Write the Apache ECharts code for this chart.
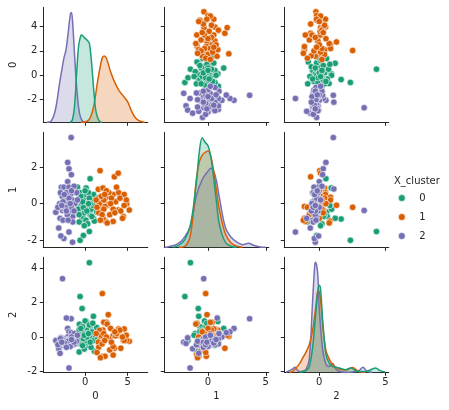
<!DOCTYPE html>
<html><head><meta charset="utf-8">
<script src="https://cdn.jsdelivr.net/npm/echarts@6/dist/echarts.min.js"></script>
<style>html,body{margin:0;padding:0;background:#fff}#c{width:449px;height:410px}</style>
</head><body><div id="c"></div>
<script>
const varNames = ['0','1','2'];
const clusterNames = ['0','1','2'];
const colors = ['#1b9e77','#d95f02','#7570b3'];

// cluster 0 (green)
const c0_v0 = [0.50,-0.59,-0.35,0.98,0.59,-0.20,0.12,-0.90,1.37,-0.70,1.09,-0.67,0.00,-0.40,0.30,0.80,-0.10,0.60,-0.50,0.20,1.00,-0.30,0.40,-0.80,0.70,-0.20,0.10,1.20,-0.60,0.50,-0.10,0.90,-0.40,0.30,-0.70,0.00,0.60,-0.20,1.50,-0.50,0.20,0.80,-0.30,-0.10,0.40];
const c0_v1 = [-1.52,-2.00,-0.84,-0.80,1.36,-1.73,0.85,0.90,-0.46,-1.00,-0.95,0.30,-0.30,-0.50,-0.20,0.20,0.40,-0.60,-0.10,0.10,0.50,-0.70,0.60,-0.30,-0.30,0.20,-0.90,0.00,0.60,0.30,-0.50,-0.10,0.00,-1.10,-0.60,0.70,0.00,-0.20,0.30,0.40,-0.40,-0.70,0.10,-1.20,0.00];
const c0_v2 = [4.32,2.35,1.65,1.20,0.50,-0.20,0.90,0.20,0.55,-0.87,-0.83,0.74,0.93,0.10,-0.10,0.30,-0.30,0.00,-0.40,0.40,-0.20,0.60,-0.50,0.00,-0.60,0.20,-0.30,0.10,-0.10,0.70,-0.70,0.80,0.30,0.20,0.40,-0.20,-0.30,-0.10,-0.10,0.50,0.00,0.30,-0.50,0.10,0.20];
// cluster 1 (orange)
const c1_v0 = [2.03,2.73,1.76,3.44,3.90,1.56,2.10,3.30,3.95,4.60,5.20,4.90,4.85,4.50,3.30,2.40,2.10,1.70,2.70,2.50,3.90,2.35,2.20,1.60,2.90,4.20,3.60,2.80,3.30,1.90,2.60,4.60,2.20,3.10,1.40,2.00,3.70,2.50,4.10,1.80,3.00,2.30,4.40,1.30,3.50];
const c1_v1 = [-0.20,-0.09,1.80,1.46,1.66,0.78,0.85,0.50,0.60,0.50,-0.35,0.00,0.20,-0.70,-0.97,-0.95,-0.80,0.00,-0.05,0.35,-0.35,-0.15,0.20,-0.50,-0.60,-0.40,0.10,0.60,-0.30,0.40,-1.05,-0.10,-0.30,0.30,-0.20,-0.60,0.90,0.70,0.30,-0.90,0.00,0.50,-0.80,0.20,-0.50];
const c1_v2 = [2.52,1.30,0.04,-0.65,0.10,-0.30,0.40,0.07,0.47,0.47,-0.25,-0.20,0.10,-0.20,-1.05,0.80,-1.12,0.39,-0.10,0.85,0.30,-1.12,0.85,-0.60,-0.75,-0.65,0.07,-0.10,-0.55,0.10,0.75,-0.20,0.20,-0.30,-0.90,-0.40,0.20,0.00,0.40,-1.20,0.50,-0.20,0.00,0.20,0.30];
// cluster 2 (purple)
const c2_v0 = [-1.64,-2.05,-1.90,-1.62,-2.20,-2.66,-1.90,-1.48,-2.50,-2.85,-3.10,-2.95,-3.45,-2.05,-2.80,-2.50,-1.90,-1.30,-3.00,-2.60,-1.45,-1.45,-2.30,-2.00,-1.70,-2.40,-1.80,-2.20,-1.50,-2.70,-2.10,-1.20,-2.60,-1.90,-2.30,-1.60,-1.00,-2.90,-2.00,-1.75,-2.45,-1.30,-0.90,-2.20,-1.60,-3.20,-2.75];
const c2_v1 = [3.60,2.25,1.90,1.58,0.80,-0.37,-1.55,-2.10,-1.90,-1.76,-1.33,-0.80,-0.47,1.20,0.90,0.90,0.90,0.95,0.00,-0.90,-0.70,-1.00,0.30,0.00,0.50,-0.30,-0.40,0.60,0.20,0.40,-0.60,0.00,0.10,0.30,-0.20,-0.20,0.60,0.60,-0.90,0.00,0.50,-0.40,0.20,-0.40,0.70,-0.20,-0.10];
const c2_v2 = [1.06,0.50,0.30,0.25,1.10,3.39,-1.80,-0.30,-0.37,-0.05,-0.68,-0.95,-0.20,0.00,-0.30,-0.10,-0.40,0.20,-0.35,-0.50,-0.20,-0.45,-0.25,-0.30,-0.35,-0.20,-0.10,-0.45,-0.30,-0.15,-0.30,-0.40,-0.40,-0.20,-0.50,0.00,-0.25,-0.10,-0.25,-0.55,-0.35,-0.30,0.10,-0.60,-0.15,-0.45,-0.30];

// KDE curves (relative density)
const kdeV0_c0_x = [-1.75,-1.5,-1.25,-1,-0.75,-0.5,-0.39,-0.25,0,0.25,0.5,0.75,1,1.25,1.5,1.75,2];
const kdeV0_c0_y = [0,0.02,0.136,0.426,0.672,0.754,0.759,0.75,0.73,0.713,0.687,0.528,0.296,0.107,0.035,0.005,0];
const kdeV0_c1_x = [-0.5,0,0.5,1,1.5,2,2.25,2.5,3,3.5,4,4.5,5,5.5,6,6.5,7];
const kdeV0_c1_y = [0,0.003,0.026,0.136,0.368,0.557,0.577,0.557,0.44,0.345,0.275,0.229,0.18,0.093,0.032,0.009,0];
const kdeV0_c2_x = [-4.5,-4,-3.5,-3,-2.5,-2.25,-2,-1.75,-1.64,-1.5,-1.25,-1,-0.75,-0.5,-0.25,0];
const kdeV0_c2_y = [0,0.01,0.107,0.34,0.556,0.629,0.774,0.933,0.954,0.904,0.6,0.31,0.12,0.035,0.006,0];

const kdeV1_c0_x = [-3,-2.5,-2,-1.5,-1,-0.75,-0.5,-0.25,0,0.25,0.5,0.75,1,1.5,2,2.5];
const kdeV1_c0_y = [0,0.02,0.067,0.204,0.569,0.831,0.953,0.913,0.883,0.787,0.598,0.379,0.19,0.044,0.009,0];
const kdeV1_c1_x = [-2.5,-2,-1.5,-1,-0.75,-0.5,-0.25,0,0.25,0.5,0.75,1,1.5,2,2.5,3];
const kdeV1_c1_y = [0,0.009,0.117,0.598,0.743,0.802,0.825,0.837,0.787,0.656,0.481,0.321,0.117,0.038,0.009,0];
const kdeV1_c2_x = [-3.75,-3.5,-3,-2.5,-2,-1.5,-1,-0.5,0,0.25,0.5,0.75,1,1.5,2,2.5,3,3.5,4,4.5,5];
const kdeV1_c2_y = [0,0.003,0.015,0.038,0.093,0.19,0.452,0.589,0.662,0.688,0.662,0.569,0.423,0.175,0.087,0.044,0.023,0.035,0.015,0.003,0];

const kdeV2_c0_x = [-1.5,-1,-0.75,-0.5,-0.25,-0.1,0,0.1,0.25,0.5,0.75,1,1.5,2,2.4,2.8,3.5,4.25,4.6,5];
const kdeV2_c0_y = [0.003,0.015,0.05,0.219,0.539,0.714,0.758,0.72,0.466,0.16,0.079,0.05,0.038,0.023,0.038,0.012,0.006,0.038,0.015,0.003];
const kdeV2_c1_x = [-2.25,-2,-1.5,-1.25,-1,-0.75,-0.5,-0.25,-0.1,0,0.1,0.25,0.5,0.75,1,1.5,2,2.5,3,3.5];
const kdeV2_c1_y = [0,0.009,0.073,0.125,0.175,0.242,0.364,0.583,0.706,0.7,0.627,0.423,0.19,0.117,0.067,0.029,0.02,0.041,0.006,0];
const kdeV2_c2_x = [-2.5,-2,-1.85,-1.5,-1.25,-1,-0.75,-0.5,-0.35,-0.3,-0.2,-0.1,0,0.25,0.5,0.75,1,1.25,1.5,2,2.5,3,3.3,3.6,4];
const kdeV2_c2_y = [0,0.029,0.044,0.006,0.009,0.026,0.117,0.627,0.918,0.956,0.933,0.831,0.554,0.204,0.073,0.05,0.079,0.029,0.009,0,0.003,0.015,0.044,0.009,0];

const xTickValues = [0,5];
const yTickValues = [[-2,0,2,4],[-2,0,2],[-2,0,2,4]];

// ---------- layout ----------
const colLeft = [43.3,164.3,284.3], rowTop = [7.3,132.3,257.3], W = 104.5, H = 115;
const colRange = [[-4.92,7.38],[-3.78,5.26],[-2.64,5.25]];
const rowRange = [[-3.85,5.57],[-2.38,3.89],[-2.05,4.63]];
const ink = '#262626';

const clusters = [[c0_v0,c0_v1,c0_v2],[c1_v0,c1_v1,c1_v2],[c2_v0,c2_v1,c2_v2]];
const kdes = [
  [[kdeV0_c0_x,kdeV0_c0_y],[kdeV0_c1_x,kdeV0_c1_y],[kdeV0_c2_x,kdeV0_c2_y]],
  [[kdeV1_c0_x,kdeV1_c0_y],[kdeV1_c1_x,kdeV1_c1_y],[kdeV1_c2_x,kdeV1_c2_y]],
  [[kdeV2_c0_x,kdeV2_c0_y],[kdeV2_c1_x,kdeV2_c1_y],[kdeV2_c2_x,kdeV2_c2_y]]
];

const grid = [], xAxis = [], yAxis = [], series = [];
for (let i = 0; i < 3; i++) {
  for (let j = 0; j < 3; j++) {
    const k = i*3 + j;
    grid.push({left: colLeft[j], top: rowTop[i], width: W, height: H, containLabel: false});
    xAxis.push({
      gridIndex: k, type: 'value', min: colRange[j][0], max: colRange[j][1],
      axisLine: {show: true, onZero: false, lineStyle: {color: ink, width: 1}},
      axisTick: {show: true, length: 3.5, customValues: xTickValues, lineStyle: {color: ink, width: 1}},
      axisLabel: {show: i === 2, customValues: xTickValues, margin: 5, color: ink, fontSize: 10, fontFamily: 'DejaVu Sans'},
      splitLine: {show: false},
      name: i === 2 ? varNames[j] : '', nameLocation: 'middle', nameGap: 19,
      nameTextStyle: {color: ink, fontSize: 10, fontFamily: 'DejaVu Sans'}
    });
    yAxis.push({
      gridIndex: k, type: 'value', min: rowRange[i][0], max: rowRange[i][1],
      axisLine: {show: true, onZero: false, lineStyle: {color: ink, width: 1}},
      axisTick: {show: true, length: 3.5, customValues: yTickValues[i], lineStyle: {color: ink, width: 1}},
      axisLabel: {show: j === 0, customValues: yTickValues[i], margin: 6, color: ink, fontSize: 10, fontFamily: 'DejaVu Sans'},
      splitLine: {show: false},
      name: j === 0 ? varNames[i] : '', nameLocation: 'middle', nameGap: 25, nameRotate: 90,
      nameTextStyle: {color: ink, fontSize: 10, fontFamily: 'DejaVu Sans'}
    });
  }
}
// hidden density axes for diagonal
for (let i = 0; i < 3; i++) {
  yAxis.push({gridIndex: i*4, type: 'value', min: 0, max: 1, show: false});
}

for (let i = 0; i < 3; i++) {
  for (let j = 0; j < 3; j++) {
    const k = i*3 + j;
    if (i === j) {
      for (let c = 2; c >= 0; c--) {
        const [xs, ys] = kdes[i][c];
        series.push({
          type: 'line', name: clusterNames[c], xAxisIndex: k, yAxisIndex: 9 + i,
          data: xs.map((x, n) => [x, ys[n]]), smooth: 0.35, showSymbol: false, symbol: 'none',
          lineStyle: {color: colors[c], width: 1.5},
          itemStyle: {color: colors[c]},
          areaStyle: {color: colors[c], opacity: 0.25, origin: 'start'},
          silent: true
        });
      }
    } else {
      for (let c = 0; c < 3; c++) {
        const xs = clusters[c][j], ys = clusters[c][i];
        series.push({
          type: 'scatter', name: clusterNames[c], xAxisIndex: k, yAxisIndex: k,
          data: xs.map((x, n) => [x, ys[n]]), symbolSize: 6.5,
          itemStyle: {color: colors[c], borderColor: '#ffffff', borderWidth: 0.6, opacity: 1}
        });
      }
    }
  }
}

const chart = echarts.init(document.getElementById('c'), null, {renderer: 'canvas'});
chart.setOption({
  animation: false,
  backgroundColor: '#ffffff',
  textStyle: {fontFamily: 'DejaVu Sans', color: ink},
  title: {text: 'X_cluster', left: 394, top: 176, textStyle: {fontSize: 10, fontWeight: 'normal', color: ink, fontFamily: 'DejaVu Sans'}, padding: 0},
  legend: {
    data: clusterNames.map((n, c) => ({name: n, icon: 'circle', itemStyle: {color: colors[c], borderColor: '#fff', borderWidth: 0.6}})),
    orient: 'vertical', left: 398, top: 193, itemWidth: 25, itemHeight: 7, itemGap: 9,
    textStyle: {fontSize: 10, color: ink, fontFamily: 'DejaVu Sans'}, padding: 0, selectedMode: false
  },
  grid, xAxis, yAxis, series
});
</script></body></html>
